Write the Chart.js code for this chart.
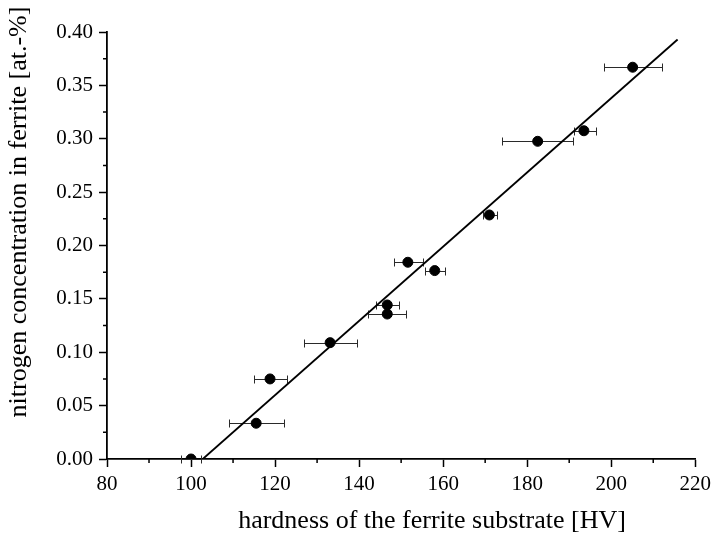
<!DOCTYPE html>
<html>
<head>
<meta charset="utf-8">
<script src="https://cdn.jsdelivr.net/npm/chart.js@4.4.0/dist/chart.umd.min.js"></script>
<style>
  html, body { margin: 0; padding: 0; background: #ffffff; }
  #wrap { width: 716px; height: 544px; }
</style>
</head>
<body>
<div id="wrap"><canvas id="c" width="716" height="544"></canvas></div>
<script>
// Measured samples: substrate hardness (HV) vs. nitrogen content in ferrite (at.-%)
const hardness     = [100.0, 115.5, 118.8, 133.1, 146.7, 146.7, 151.6, 158.0, 171.0, 182.5, 193.5, 205.1];
const nitrogen     = [0.000, 0.0335, 0.0750, 0.1090, 0.1443, 0.1358, 0.1843, 0.1765, 0.2286, 0.2976, 0.3075, 0.3670];
// Hardness scatter (horizontal error bar limits)
const hardnessLow  = [97.6, 109.1, 115.0, 126.8, 144.1, 142.2, 148.4, 155.7, 169.6, 174.1, 191.1, 198.2];
const hardnessHigh = [102.4, 122.1, 122.8, 139.4, 149.6, 151.2, 155.1, 160.5, 172.8, 191.0, 196.3, 212.1];
// Linear fit endpoints
const fitX = [102.8, 215.8];
const fitY = [0.000, 0.393];
// Axis ticks
const xTicks = [80, 100, 120, 140, 160, 180, 200, 220];
const yTicks = [0.00, 0.05, 0.10, 0.15, 0.20, 0.25, 0.30, 0.35, 0.40];
const xMinorTicks = [90, 110, 130, 150, 170, 190, 210];
const yMinorTicks = [0.025, 0.075, 0.125, 0.175, 0.225, 0.275, 0.325, 0.375];

const xTitle = 'hardness of the ferrite substrate [HV]';
const yTitle = 'nitrogen concentration in ferrite [at.-%]';

const SERIF = '"Liberation Serif", "Times New Roman", serif';

const points = hardness.map((h, i) => ({ x: h, y: nitrogen[i] }));
const fitLine = fitX.map((x, i) => ({ x: x, y: fitY[i] }));

// Horizontal error bars drawn beneath the markers
const errorBars = {
  id: 'errorBars',
  beforeDatasetsDraw(chart) {
    const { ctx, scales: { x, y } } = chart;
    ctx.save();
    ctx.strokeStyle = '#2a2a2a';
    ctx.lineWidth = 1;
    const cap = 4;
    hardness.forEach((h, i) => {
      const py = Math.round(y.getPixelForValue(nitrogen[i])) + 0.5;
      const x0 = Math.round(x.getPixelForValue(hardnessLow[i])) + 0.5;
      const x1 = Math.round(x.getPixelForValue(hardnessHigh[i])) + 0.5;
      ctx.beginPath();
      ctx.moveTo(x0, py); ctx.lineTo(x1, py);
      ctx.moveTo(x0, py - cap); ctx.lineTo(x0, py + cap);
      ctx.moveTo(x1, py - cap); ctx.lineTo(x1, py + cap);
      ctx.stroke();
    });
    ctx.restore();
  }
};

// Minor ticks on both axes, pointing outward
const minorTicks = {
  id: 'minorTicks',
  afterDraw(chart) {
    const { ctx, chartArea, scales: { x, y } } = chart;
    ctx.save();
    ctx.strokeStyle = '#000';
    ctx.lineWidth = 1.5;
    const len = 4;
    ctx.beginPath();
    xMinorTicks.forEach(v => {
      const px = x.getPixelForValue(v);
      ctx.moveTo(px, chartArea.bottom);
      ctx.lineTo(px, chartArea.bottom + len);
    });
    yMinorTicks.forEach(v => {
      const py = y.getPixelForValue(v);
      ctx.moveTo(chartArea.left, py);
      ctx.lineTo(chartArea.left - len, py);
    });
    ctx.stroke();
    ctx.restore();
  }
};

// Axis titles
const axisTitles = {
  id: 'axisTitles',
  afterDraw(chart) {
    const { ctx, chartArea } = chart;
    ctx.save();
    ctx.fillStyle = '#000';
    ctx.font = '26px ' + SERIF;
    ctx.textAlign = 'center';
    ctx.textBaseline = 'middle';
    ctx.fillText(xTitle, chartArea.left + 325, chartArea.bottom + 62);
    ctx.translate(chartArea.left - 88, chartArea.top + 180);
    ctx.rotate(-Math.PI / 2);
    ctx.fillText(yTitle, 0, 0);
    ctx.restore();
  }
};

new Chart(document.getElementById('c'), {
  type: 'scatter',
  data: {
    datasets: [
      {
        type: 'line',
        data: fitLine,
        borderColor: '#000',
        borderWidth: 1.8,
        pointRadius: 0,
        fill: false,
        tension: 0,
        order: 2
      },
      {
        data: points,
        backgroundColor: '#000',
        borderColor: '#000',
        pointRadius: 5,
        pointHoverRadius: 5,
        order: 1
      }
    ]
  },
  options: {
    responsive: false,
    animation: false,
    devicePixelRatio: 1,
    layout: { padding: { top: 32, right: 18, bottom: 0, left: 0 } },
    plugins: {
      legend: { display: false },
      tooltip: { enabled: false }
    },
    scales: {
      x: {
        type: 'linear',
        min: 80,
        max: 220,
        afterBuildTicks(scale) { scale.ticks = xTicks.map(v => ({ value: v })); },
        afterFit(scale) { scale.height = 85; },
        border: { display: true, color: '#000', width: 1.8 },
        grid: { display: true, drawOnChartArea: false, drawTicks: true, tickLength: 8, tickColor: '#000', tickWidth: 1.5 },
        ticks: {
          color: '#000',
          padding: 5,
          maxRotation: 0,
          font: { family: SERIF, size: 21 },
          callback: v => String(v)
        }
      },
      y: {
        type: 'linear',
        min: 0,
        max: 0.40,
        afterBuildTicks(scale) { scale.ticks = yTicks.map(v => ({ value: v })); },
        afterFit(scale) { scale.width = 107; },
        border: { display: true, color: '#000', width: 1.8 },
        grid: { display: true, drawOnChartArea: false, drawTicks: true, tickLength: 8, tickColor: '#000', tickWidth: 1.5 },
        ticks: {
          color: '#000',
          padding: 6,
          font: { family: SERIF, size: 21 },
          callback: v => Number(v).toFixed(2)
        }
      }
    }
  },
  plugins: [errorBars, minorTicks, axisTitles]
});
</script>
</body>
</html>
